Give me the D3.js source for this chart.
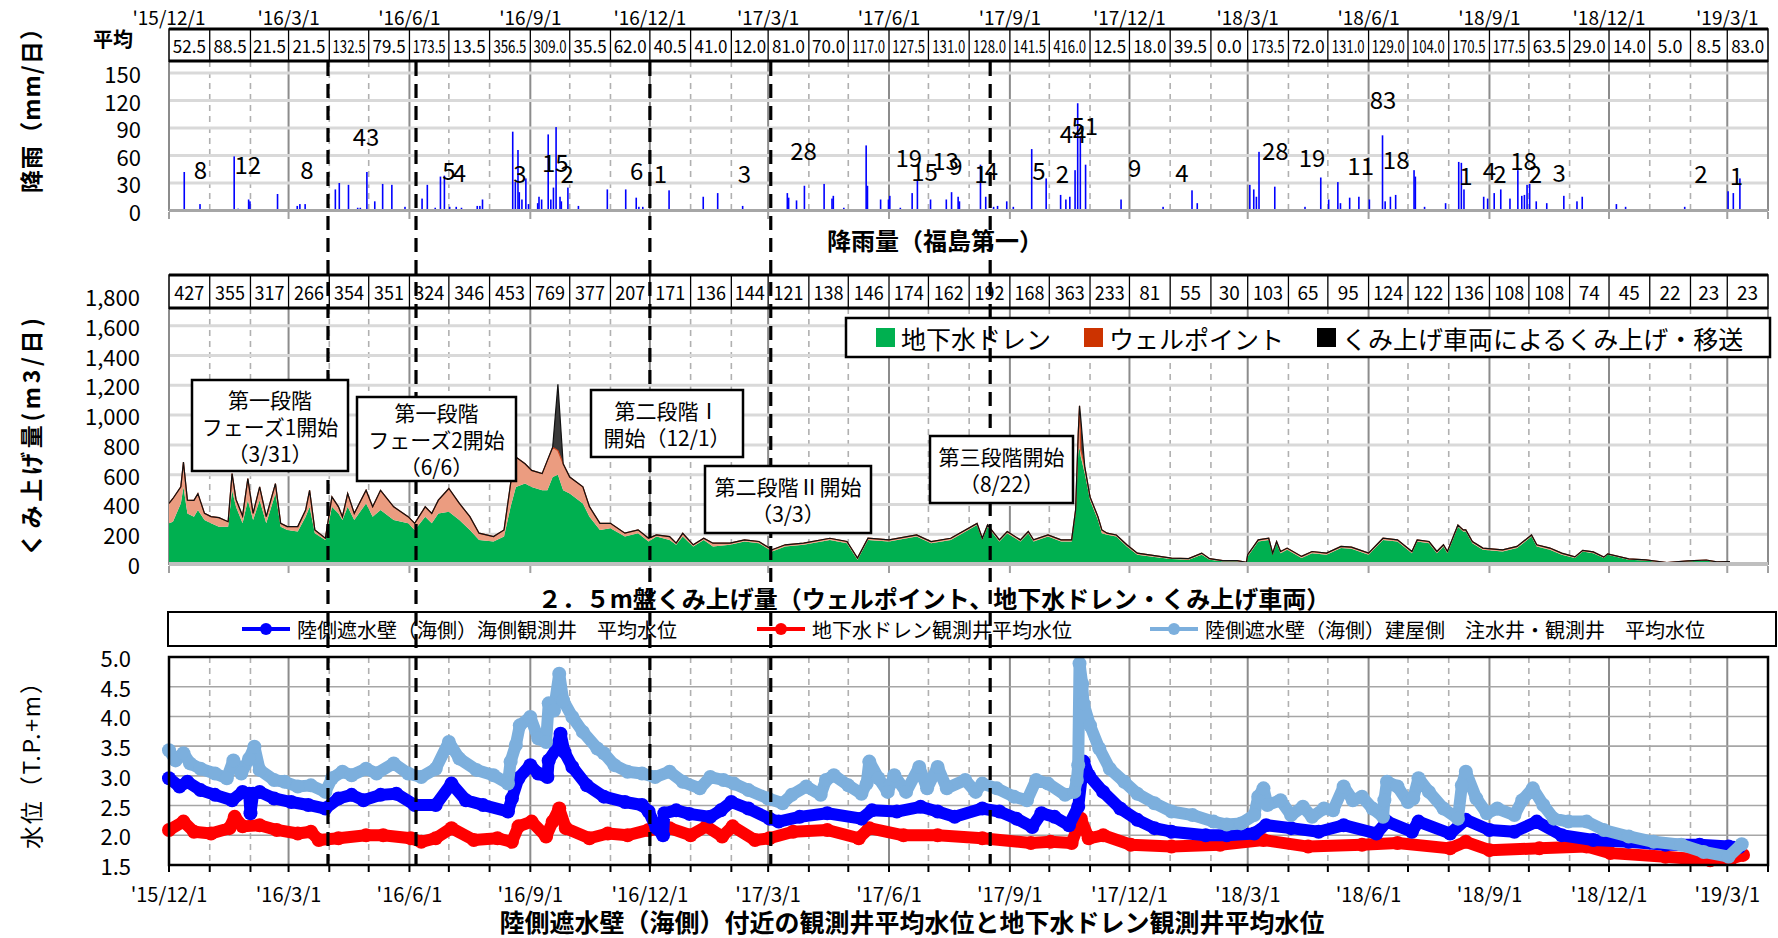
<!DOCTYPE html>
<html>
<head>
<meta charset="utf-8">
<script src="https://cdn.jsdelivr.net/npm/d3@7"></script>
<style>
body { margin: 0; background: #fff; }
svg text { font-family: "Noto Sans CJK JP", "Noto Sans", sans-serif; fill: #000; }
</style>
</head>
<body>
<div id="chart"></div>
<script>
// monthly averages shown in the two tables
const rainAvg = [52.5, 88.5, 21.5, 21.5, 132.5, 79.5, 173.5, 13.5, 356.5, 309.0, 35.5, 62.0, 40.5, 41.0, 12.0, 81.0, 70.0, 117.0, 127.5, 131.0,
    128.0, 141.5, 416.0, 12.5, 18.0, 39.5, 0.0, 173.5, 72.0, 131.0, 129.0, 104.0, 170.5, 177.5, 63.5, 29.0, 14.0, 5.0, 8.5, 83.0];
const pumpAvg = [427, 355, 317, 266, 354, 351, 324, 346, 453, 769, 377, 207, 171, 136, 144, 121, 138, 146, 174, 162,
    192, 168, 363, 233, 81, 55, 30, 103, 65, 95, 124, 122, 136, 108, 108, 74, 45, 22, 23, 23];

// daily rainfall (mm), only the days with visible bars
const rainDaily = [["2015-12-12",42],["2015-12-24",7],["2016-01-19",59],["2016-01-22",2],["2016-01-30",12],["2016-01-31",10],["2016-02-21",18],
    ["2016-03-07",5],["2016-03-09",7],["2016-03-13",7],["2016-04-05",23],["2016-04-08",30],["2016-04-15",28],["2016-04-22",3],["2016-04-24",3],
    ["2016-04-29",42],["2016-05-05",10],["2016-05-11",29],["2016-05-18",28],["2016-05-28",4],["2016-06-10",13],["2016-06-14",28],["2016-06-20",3],
    ["2016-06-24",37],["2016-06-27",38],["2016-07-01",4],["2016-07-06",4],["2016-07-10",3],["2016-07-22",5],["2016-07-24",5],["2016-07-26",12],
    ["2016-08-18",86],["2016-08-20",31],["2016-08-22",66],["2016-08-23",20],["2016-08-25",12],["2016-08-28",35],["2016-08-30",7],["2016-09-06",8],
    ["2016-09-07",15],["2016-09-09",12],["2016-09-14",83],["2016-09-16",12],["2016-09-18",25],["2016-09-20",91],["2016-09-23",15],["2016-09-24",10],
    ["2016-09-29",25],["2016-10-07",5],["2016-10-29",23],["2016-11-12",23],["2016-11-20",14],["2016-11-22",4],["2016-11-25",4],["2016-12-15",22],
    ["2017-01-10",15],["2017-01-21",19],["2017-02-09",5],["2017-03-15",19],["2017-03-16",14],["2017-03-22",11],["2017-03-28",27],["2017-04-12",29],
    ["2017-04-18",13],["2017-04-19",16],["2017-04-27",3],["2017-05-14",71],["2017-05-15",27],["2017-05-25",12],["2017-05-31",12],["2017-06-01",16],
    ["2017-06-09",3],["2017-06-18",19],["2017-06-22",33],["2017-07-02",12],["2017-07-14",12],["2017-07-18",20],["2017-07-23",15],["2017-07-24",10],
    ["2017-08-09",50],["2017-08-13",15],["2017-08-19",4],["2017-08-22",5],["2017-08-29",10],["2017-09-03",4],["2017-09-17",67],["2017-09-28",35],
    ["2017-10-09",17],["2017-10-13",12],["2017-10-16",15],["2017-10-20",44],["2017-10-22",117],["2017-10-24",81],["2017-10-28",50],["2017-11-24",12],
    ["2017-12-26",4],["2018-01-17",22],["2018-01-21",8],["2018-03-02",28],["2018-03-05",23],["2018-03-07",15],["2018-03-09",64],["2018-03-21",26],
    ["2018-04-13",4],["2018-04-25",36],["2018-05-01",12],["2018-05-08",31],["2018-05-10",8],["2018-05-17",14],["2018-05-24",15],["2018-06-01",12],
    ["2018-06-11",82],["2018-06-13",10],["2018-06-17",15],["2018-06-21",17],["2018-07-05",44],["2018-07-06",37],["2018-07-13",4],["2018-07-29",8],
    ["2018-08-08",53],["2018-08-10",52],["2018-08-12",23],["2018-08-27",15],["2018-08-30",13],["2018-09-04",19],["2018-09-09",23],["2018-09-16",13],
    ["2018-09-22",44],["2018-09-25",16],["2018-09-27",17],["2018-09-29",28],["2018-10-01",29],["2018-10-06",10],["2018-10-14",8],["2018-10-27",16],
    ["2018-11-06",10],["2018-11-10",15],["2018-12-06",7],["2018-12-13",4],["2019-01-27",4],["2019-03-01",21],["2019-03-05",19],["2019-03-10",35]];

// numbers written over the rainfall bars: date, height (mm), text
const rainNotes = [["2015-12-25",46,"8"],["2016-01-30",51,"12"],["2016-03-15",46,"8"],["2016-04-29",82,"43"],["2016-07-01",45,"5"],
    ["2016-07-09",43,"4"],["2016-08-24",41,"3"],["2016-09-20",54,"15"],["2016-09-29",41,"2"],["2016-11-21",45,"6"],["2016-12-09",41,"1"],
    ["2017-02-11",42,"3"],["2017-03-28",67,"28"],["2017-06-16",59,"19"],["2017-06-28",44,"15"],["2017-07-14",56,"13"],["2017-07-22",50,"9"],
    ["2017-08-10",41,"1"],["2017-08-18",45,"4"],["2017-09-23",45,"5"],["2017-10-11",42,"2"],["2017-10-19",85,"44"],["2017-10-28",94,"51"],
    ["2017-12-05",48,"9"],["2018-01-10",43,"4"],["2018-03-22",67,"28"],["2018-04-19",59,"19"],["2018-05-26",50,"11"],["2018-06-12",122,"83"],
    ["2018-06-22",57,"18"],["2018-08-14",39,"1"],["2018-09-01",45,"4"],["2018-09-09",41,"2"],["2018-09-27",56,"18"],["2018-10-06",41,"2"],
    ["2018-10-24",43,"3"],["2019-02-09",41,"2"],["2019-03-08",39,"1"]];

// pumped volume (m3/day): date, groundwater drain, well point, truck transfer
const pumpDaily = [["2015-12-01",273,134,0],["2015-12-04",284,156,0],["2015-12-10",407,111,0],["2015-12-12",518,166,0],["2015-12-15",340,89,0],
    ["2015-12-20",318,110,0],["2015-12-23",362,111,0],["2015-12-28",296,44,0],["2016-01-02",273,45,0],["2016-01-08",251,60,0],["2016-01-15",251,33,0],
    ["2016-01-18",495,112,0],["2016-01-21",384,50,0],["2016-01-26",273,50,0],["2016-01-30",429,144,0],["2016-02-03",296,44,0],["2016-02-08",429,89,0],
    ["2016-02-13",273,45,0],["2016-02-20",473,67,0],["2016-02-24",251,22,0],["2016-02-29",229,22,0],["2016-03-08",218,33,0],["2016-03-14",318,44,0],
    ["2016-03-17",384,111,0],["2016-03-21",207,22,0],["2016-03-29",162,11,0],["2016-04-03",384,67,0],["2016-04-08",340,44,0],["2016-04-11",296,22,0],
    ["2016-04-15",384,89,0],["2016-04-20",296,44,0],["2016-04-29",407,88,0],["2016-05-04",318,66,0],["2016-05-10",362,133,0],["2016-05-20",296,88,0],
    ["2016-05-31",273,45,0],["2016-06-05",229,44,0],["2016-06-13",318,66,0],["2016-06-18",273,67,0],["2016-06-23",340,89,0],["2016-07-01",351,156,0],
    ["2016-07-09",296,111,0],["2016-07-17",229,89,0],["2016-07-24",162,45,0],["2016-08-04",151,33,0],["2016-08-12",184,45,0],["2016-08-17",384,156,0],
    ["2016-08-21",518,200,0],["2016-08-28",540,133,0],["2016-09-02",518,111,0],["2016-09-10",495,112,0],["2016-09-14",495,201,0],["2016-09-18",584,200,0],
    ["2016-09-22",600,162,445],["2016-09-26",495,178,0],["2016-10-01",473,111,0],["2016-10-11",407,111,0],["2016-10-16",318,67,0],["2016-10-24",229,44,0],
    ["2016-11-01",240,33,0],["2016-11-12",184,23,0],["2016-11-22",207,22,0],["2016-11-30",151,22,0],["2016-12-06",184,11,0],["2016-12-16",162,22,0],
    ["2016-12-21",129,11,0],["2016-12-26",184,22,0],["2017-01-03",118,11,0],["2017-01-11",162,11,0],["2017-01-18",118,22,0],["2017-01-31",129,11,0],
    ["2017-02-11",151,11,0],["2017-02-22",140,11,0],["2017-03-04",84,12,0],["2017-03-14",118,11,0],["2017-03-28",129,11,0],["2017-04-17",162,11,0],
    ["2017-04-30",140,11,0],["2017-05-08",29,11,0],["2017-05-16",162,11,0],["2017-06-01",151,11,0],["2017-06-22",184,11,0],["2017-07-03",140,11,0],
    ["2017-07-18",162,11,0],["2017-08-07",262,11,0],["2017-08-11",162,11,0],["2017-08-15",251,11,0],["2017-08-24",151,11,0],["2017-08-30",207,11,0],
    ["2017-09-09",151,11,0],["2017-09-15",207,11,0],["2017-09-19",151,11,0],["2017-09-30",184,11,0],["2017-10-10",151,11,0],["2017-10-18",151,11,0],
    ["2017-10-21",340,22,0],["2017-10-23",740,133,0],["2017-10-24",780,282,0],["2017-10-25",718,50,205],["2017-10-28",607,45,0],["2017-11-01",429,22,0],
    ["2017-11-07",296,22,0],["2017-11-10",207,22,0],["2017-11-14",196,11,0],["2017-11-21",184,11,0],["2017-11-29",118,11,0],["2017-12-07",62,11,0],
    ["2017-12-20",47,9,0],["2018-01-02",33,7,0],["2018-01-15",29,7,0],["2018-01-25",62,11,0],["2018-01-31",29,7,0],["2018-02-10",18,5,0],
    ["2018-02-21",18,5,0],["2018-02-28",7,4,0],["2018-03-01",51,11,0],["2018-03-09",151,11,0],["2018-03-17",162,11,0],["2018-03-20",62,11,0],
    ["2018-03-23",140,11,0],["2018-03-26",73,11,0],["2018-03-31",96,11,0],["2018-04-11",40,11,0],["2018-04-19",73,11,0],["2018-04-30",62,11,0],
    ["2018-05-11",107,11,0],["2018-05-19",102,11,0],["2018-06-01",62,11,0],["2018-06-12",162,11,0],["2018-06-23",151,11,0],["2018-07-04",73,11,0],
    ["2018-07-08",151,11,0],["2018-07-17",140,11,0],["2018-07-23",73,11,0],["2018-07-28",118,11,0],["2018-07-31",73,11,0],["2018-08-08",251,11,0],
    ["2018-08-12",218,11,0],["2018-08-14",218,11,0],["2018-08-19",140,11,0],["2018-08-27",96,11,0],["2018-09-11",84,11,0],["2018-09-22",107,11,0],
    ["2018-10-03",184,11,0],["2018-10-07",118,11,0],["2018-10-17",96,11,0],["2018-10-26",62,11,0],["2018-11-05",40,8,0],["2018-11-11",84,8,0],
    ["2018-11-19",73,8,0],["2018-11-27",40,6,0],["2018-11-30",62,6,0],["2018-12-16",29,5,0],["2018-12-29",24,4,0],["2019-01-14",7,3,0],
    ["2019-01-30",18,3,0],["2019-02-13",24,3,0],["2019-02-21",11,3,0],["2019-03-03",13,3,0]];

// water levels (T.P.+m)
const levelSea = [["2015-12-01",2.96],["2015-12-09",2.82],["2015-12-15",2.90],["2015-12-25",2.76],["2016-01-05",2.68],["2016-01-18",2.59],
    ["2016-01-26",2.73],["2016-01-31",2.70],["2016-02-01",2.37],["2016-02-03",2.70],["2016-02-08",2.73],["2016-02-19",2.62],["2016-03-03",2.56],
    ["2016-03-16",2.51],["2016-03-29",2.45],["2016-04-08",2.62],["2016-04-18",2.68],["2016-04-27",2.59],["2016-05-10",2.68],["2016-05-22",2.70],
    ["2016-06-05",2.51],["2016-06-21",2.51],["2016-07-03",2.87],["2016-07-14",2.59],["2016-07-27",2.51],["2016-08-15",2.40],["2016-08-18",2.62],
    ["2016-08-23",2.96],["2016-09-01",3.18],["2016-09-07",3.04],["2016-09-14",2.98],["2016-09-15",3.26],["2016-09-21",3.46],["2016-09-24",3.71],
    ["2016-09-27",3.40],["2016-10-03",3.15],["2016-10-14",2.84],["2016-10-27",2.65],["2016-11-12",2.56],["2016-11-25",2.51],["2016-11-30",2.40],
    ["2016-12-06",2.12],["2016-12-11",2.00],["2016-12-12",2.37],["2016-12-21",2.42],["2016-12-31",2.36],["2017-01-16",2.31],["2017-01-24",2.42],
    ["2017-02-01",2.56],["2017-02-14",2.45],["2017-03-02",2.28],["2017-03-09",2.23],["2017-03-25",2.31],["2017-04-15",2.37],["2017-05-11",2.28],
    ["2017-05-19",2.42],["2017-06-07",2.40],["2017-06-25",2.48],["2017-07-08",2.40],["2017-07-21",2.31],["2017-08-11",2.45],["2017-08-24",2.40],
    ["2017-09-06",2.28],["2017-09-18",2.14],["2017-09-25",2.37],["2017-10-05",2.31],["2017-10-16",2.17],["2017-10-23",2.48],["2017-10-27",3.24],
    ["2017-10-31",3.01],["2017-11-11",2.73],["2017-11-24",2.45],["2017-12-07",2.26],["2017-12-20",2.12],["2018-01-02",2.06],["2018-01-28",2.00],
    ["2018-02-13",2.00],["2018-03-06",2.03],["2018-03-15",2.17],["2018-04-03",2.12],["2018-04-24",2.06],["2018-05-13",2.17],["2018-06-07",2.03],
    ["2018-06-15",2.23],["2018-07-04",2.06],["2018-07-09",2.23],["2018-08-02",2.03],["2018-08-14",2.26],["2018-09-01",2.09],["2018-09-20",2.06],
    ["2018-10-07",2.23],["2018-10-26",2.00],["2018-11-19",1.92],["2018-12-16",1.89],["2019-01-13",1.84],["2019-02-08",1.84],["2019-03-02",1.81],
    ["2019-03-10",1.80]];
const levelDrain = [["2015-12-01",2.09],["2015-12-12",2.23],["2015-12-20",2.06],["2016-01-02",2.03],["2016-01-16",2.12],["2016-01-20",2.31],
    ["2016-01-26",2.15],["2016-02-08",2.17],["2016-02-21",2.09],["2016-03-08",2.03],["2016-03-18",2.06],["2016-03-24",1.92],["2016-04-08",1.95],
    ["2016-04-29",2.00],["2016-05-12",2.00],["2016-06-02",1.95],["2016-06-10",1.89],["2016-06-21",1.95],["2016-07-03",2.12],["2016-07-20",1.92],
    ["2016-08-07",1.95],["2016-08-18",1.89],["2016-08-23",2.15],["2016-09-02",2.23],["2016-09-13",1.98],["2016-09-18",2.23],["2016-09-23",2.45],
    ["2016-09-28",2.12],["2016-10-16",1.95],["2016-10-30",2.03],["2016-11-14",2.00],["2016-11-30",2.09],["2016-12-16",2.12],["2017-01-01",2.00],
    ["2017-01-13",2.15],["2017-01-25",1.98],["2017-02-02",2.15],["2017-02-19",1.92],["2017-03-02",1.95],["2017-03-20",2.06],["2017-04-15",2.09],
    ["2017-05-09",1.95],["2017-05-17",2.12],["2017-06-12",2.00],["2017-07-08",2.00],["2017-08-11",1.95],["2017-09-17",1.87],["2017-10-02",1.89],
    ["2017-10-18",1.87],["2017-10-25",2.28],["2017-10-31",1.95],["2017-11-11",2.00],["2017-12-02",1.84],["2018-01-02",1.81],["2018-02-08",1.84],
    ["2018-03-13",1.92],["2018-04-16",1.81],["2018-05-27",1.84],["2018-06-23",1.87],["2018-08-02",1.78],["2018-08-14",1.89],["2018-09-01",1.75],
    ["2018-10-09",1.78],["2018-11-14",1.81],["2018-12-02",1.70],["2019-01-13",1.64],["2019-02-16",1.58],["2019-03-04",1.61],["2019-03-13",1.67]];
const levelBldg = [["2015-12-01",3.43],["2015-12-06",3.26],["2015-12-12",3.38],["2015-12-17",3.21],["2015-12-25",3.12],["2016-01-05",3.04],
    ["2016-01-14",2.96],["2016-01-19",3.26],["2016-01-25",3.04],["2016-01-31",3.29],["2016-02-04",3.49],["2016-02-08",3.10],["2016-02-19",2.93],
    ["2016-02-27",2.90],["2016-03-08",2.82],["2016-03-18",2.84],["2016-03-29",2.73],["2016-04-03",2.96],["2016-04-11",3.07],["2016-04-18",3.01],
    ["2016-04-29",3.12],["2016-05-07",3.04],["2016-05-20",3.21],["2016-05-31",3.04],["2016-06-10",2.98],["2016-06-21",3.12],["2016-07-01",3.57],
    ["2016-07-09",3.29],["2016-07-22",3.10],["2016-08-04",3.01],["2016-08-15",2.87],["2016-08-17",3.24],["2016-08-21",3.52],["2016-08-24",3.85],
    ["2016-09-01",3.99],["2016-09-07",3.63],["2016-09-13",3.57],["2016-09-15",4.22],["2016-09-19",4.10],["2016-09-23",4.72],["2016-09-26",4.27],
    ["2016-10-03",3.99],["2016-10-11",3.74],["2016-10-22",3.46],["2016-10-27",3.38],["2016-11-04",3.18],["2016-11-14",3.07],["2016-11-25",3.04],
    ["2016-12-05",2.98],["2016-12-16",3.07],["2016-12-26",2.90],["2017-01-08",2.79],["2017-01-16",2.98],["2017-01-26",2.93],["2017-02-03",2.87],
    ["2017-02-14",2.76],["2017-03-01",2.62],["2017-03-12",2.54],["2017-03-19",2.68],["2017-03-30",2.82],["2017-04-10",2.68],["2017-04-14",2.93],
    ["2017-04-20",3.01],["2017-05-01",2.84],["2017-05-11",2.70],["2017-05-15",2.87],["2017-05-17",3.24],["2017-05-24",2.96],["2017-05-31",2.73],
    ["2017-06-05",3.01],["2017-06-14",2.73],["2017-06-24",3.15],["2017-06-30",2.79],["2017-07-08",3.15],["2017-07-15",2.79],["2017-07-29",2.93],
    ["2017-08-06",2.73],["2017-08-11",2.87],["2017-08-22",2.79],["2017-09-04",2.65],["2017-09-14",2.59],["2017-09-21",2.93],["2017-09-30",2.87],
    ["2017-10-13",2.68],["2017-10-20",2.73],["2017-10-22",2.93],["2017-10-23",3.18],["2017-10-24",4.89],["2017-10-26",4.55],["2017-10-27",4.22],
    ["2017-11-01",3.85],["2017-11-08",3.46],["2017-11-16",3.12],["2017-11-27",2.90],["2017-12-07",2.70],["2017-12-20",2.54],["2018-01-02",2.40],
    ["2018-01-18",2.34],["2018-02-03",2.23],["2018-02-13",2.18],["2018-02-24",2.20],["2018-03-06",2.34],["2018-03-09",2.65],["2018-03-13",2.79],
    ["2018-03-16",2.51],["2018-03-26",2.59],["2018-04-03",2.34],["2018-04-12",2.48],["2018-04-19",2.31],["2018-04-28",2.45],["2018-05-05",2.42],
    ["2018-05-13",2.82],["2018-05-20",2.59],["2018-05-27",2.65],["2018-06-04",2.45],["2018-06-12",2.31],["2018-06-13",2.59],["2018-06-15",2.90],
    ["2018-06-23",2.82],["2018-07-01",2.56],["2018-07-05",2.62],["2018-07-09",2.96],["2018-07-17",2.73],["2018-07-28",2.45],["2018-08-08",2.28],
    ["2018-08-11",2.84],["2018-08-14",3.07],["2018-08-22",2.62],["2018-08-30",2.37],["2018-09-07",2.45],["2018-09-20",2.34],["2018-09-26",2.59],
    ["2018-10-04",2.79],["2018-10-12",2.51],["2018-10-20",2.28],["2018-10-31",2.23],["2018-11-14",2.23],["2018-11-27",2.09],["2018-12-16",1.98],
    ["2019-01-04",1.89],["2019-01-25",1.84],["2019-02-11",1.72],["2019-03-02",1.64],["2019-03-12",1.85]];

// start dates of the work stages (dashed lines, as drawn)
const stageLines = ["2016-03-31", "2016-06-06", "2016-12-01", "2017-03-03", "2017-08-17"];
const stageNotes = [["第一段階", "フェーズ1開始", "（3/31）"], ["第一段階", "フェーズ2開始", "（6/6）"], ["第二段階Ⅰ", "開始（12/1）"],
    ["第二段階Ⅱ開始", "（3/3）"], ["第三段階開始", "（8/22）"]];

const pumpNames = ["地下水ドレン", "ウェルポイント", "くみ上げ車両によるくみ上げ・移送"];
const levelNames = ["陸側遮水壁（海側）海側観測井　平均水位", "地下水ドレン観測井平均水位", "陸側遮水壁（海側）建屋側　注水井・観測井　平均水位"];

const W = 1778, H = 938;
const parse = d3.timeParse("%Y-%m-%d");
const start = parse("2015-12-01"), end = parse("2019-04-01");
const x = d3.scaleTime().domain([start, end]).range([169, 1768]);
const months = d3.timeMonth.range(start, end);
const isQuarter = d => d.getMonth() % 3 === 2;
const tickFmt = d3.timeFormat("'%y/%-m/%-d");

const svg = d3.select("#chart").append("svg").attr("width", W).attr("height", H);
const defs = svg.append("defs");

function fitText(sel, maxW) {
    sel.each(function () {
        if (this.getComputedTextLength() > maxW) {
            d3.select(this).attr("textLength", maxW).attr("lengthAdjust", "spacingAndGlyphs");
        }
    });
}

function vGrid(g, y0, y1) {
    g.selectAll(null).data(months.slice(1)).enter().append("line")
        .attr("x1", d => x(d)).attr("x2", d => x(d))
        .attr("y1", y0).attr("y2", y1)
        .attr("stroke", d => isQuarter(d) ? "#8c8c8c" : "#b0b0b0")
        .attr("stroke-width", d => isQuarter(d) ? 2 : 1.6)
        .attr("stroke-dasharray", d => isQuarter(d) ? null : "6,5");
}

function monthTable(g, y0, y1, values, fmt, fontSize, maxW) {
    g.append("rect").attr("x", x(start)).attr("y", y0).attr("width", x(end) - x(start)).attr("height", y1 - y0)
        .attr("fill", "#fff").attr("stroke", "#000").attr("stroke-width", 1.5);
    g.append("line").attr("x1", x(start)).attr("x2", x(end)).attr("y1", y0).attr("y2", y0).attr("stroke", "#000").attr("stroke-width", 3);
    g.append("line").attr("x1", x(start)).attr("x2", x(end)).attr("y1", y1).attr("y2", y1).attr("stroke", "#000").attr("stroke-width", 3);
    g.selectAll(null).data(months.slice(1)).enter().append("line")
        .attr("x1", d => x(d)).attr("x2", d => x(d)).attr("y1", y0).attr("y2", y1)
        .attr("stroke", "#000").attr("stroke-width", 1.3);
    g.selectAll(null).data(values).enter().append("text")
        .attr("x", (d, i) => (x(months[i]) + x(d3.timeMonth.offset(months[i], 1))) / 2)
        .attr("y", (y0 + y1) / 2)
        .attr("text-anchor", "middle").attr("dominant-baseline", "central")
        .attr("font-size", fontSize)
        .text(fmt)
        .call(fitText, maxW);
}

function quarterTicks(g, y) {
    g.selectAll(null).data(months.filter(isQuarter).concat([end])).enter().append("line")
        .attr("x1", d => x(d)).attr("x2", d => x(d)).attr("y1", y).attr("y2", y + 7)
        .attr("stroke", "#a0a0a0").attr("stroke-width", 2);
}

// ---------- rainfall ----------
const yR = d3.scaleLinear().domain([0, 180]).range([210.5, 45.5]);
const gR = svg.append("g");
vGrid(gR, 61, 210);
gR.selectAll(null).data([30, 60, 90, 120, 150]).enter().append("line")
    .attr("x1", x(start)).attr("x2", x(end)).attr("y1", d => yR(d)).attr("y2", d => yR(d))
    .attr("stroke", "#d9d9d9").attr("stroke-width", 3);
gR.append("line").attr("x1", x(start)).attr("x2", x(start)).attr("y1", 61).attr("y2", 211).attr("stroke", "#8c8c8c").attr("stroke-width", 2);
gR.append("line").attr("x1", x(end)).attr("x2", x(end)).attr("y1", 61).attr("y2", 211).attr("stroke", "#8c8c8c").attr("stroke-width", 2);
defs.append("clipPath").attr("id", "clipR").append("rect").attr("x", x(start)).attr("y", 61).attr("width", x(end) - x(start)).attr("height", 150);
gR.append("g").attr("clip-path", "url(#clipR)").selectAll("rect").data(rainDaily).enter().append("rect")
    .attr("x", d => x(parse(d[0]))).attr("width", 1.6)
    .attr("y", d => yR(d[1])).attr("height", d => yR(0) - yR(d[1]))
    .attr("fill", "#0000ff");
gR.append("line").attr("x1", x(start)).attr("x2", x(end)).attr("y1", yR(0)).attr("y2", yR(0)).attr("stroke", "#a6a6a6").attr("stroke-width", 3);
quarterTicks(gR, 212);
gR.selectAll(null).data(rainNotes).enter().append("text")
    .attr("x", d => x(parse(d[0]))).attr("y", d => yR(d[1]))
    .attr("text-anchor", "middle").attr("dominant-baseline", "central")
    .attr("font-size", 24).text(d => d[2]);
gR.selectAll(null).data([0, 30, 60, 90, 120, 150]).enter().append("text")
    .attr("x", 141).attr("y", d => yR(d)).attr("text-anchor", "end").attr("dominant-baseline", "central")
    .attr("font-size", 22).text(d => d);
monthTable(gR, 29, 61, rainAvg, d => d.toFixed(1), 18, 33);
gR.append("text").attr("x", 113).attr("y", 38).attr("text-anchor", "middle").attr("dominant-baseline", "central")
    .attr("font-size", 20).attr("font-weight", 700).text("平均");
gR.selectAll(null).data(months.filter(isQuarter)).enter().append("text")
    .attr("x", d => x(d)).attr("y", 16).attr("text-anchor", "middle").attr("dominant-baseline", "central")
    .attr("font-size", 19).text(tickFmt);
gR.append("text").attr("x", 935).attr("y", 239).attr("text-anchor", "middle").attr("dominant-baseline", "central")
    .attr("font-size", 24).attr("font-weight", 700).text("降雨量（福島第一）");

// ---------- pumped volume ----------
const yP = d3.scaleLinear().domain([0, 1800]).range([564, 296]);
const gP = svg.append("g");
vGrid(gP, 308, 564);
gP.selectAll(null).data(d3.range(200, 1800, 200)).enter().append("line")
    .attr("x1", x(start)).attr("x2", x(end)).attr("y1", d => yP(d)).attr("y2", d => yP(d))
    .attr("stroke", "#d9d9d9").attr("stroke-width", 3);
gP.append("line").attr("x1", x(start)).attr("x2", x(start)).attr("y1", 308).attr("y2", 565).attr("stroke", "#8c8c8c").attr("stroke-width", 2);
gP.append("line").attr("x1", x(end)).attr("x2", x(end)).attr("y1", 308).attr("y2", 565).attr("stroke", "#8c8c8c").attr("stroke-width", 2);

const pumpRows = pumpDaily.map(d => ({ date: parse(d[0]), drain: d[1], well: d[2], truck: d[3] }));
const stacked = d3.stack().keys(["drain", "well", "truck"])(pumpRows);
const pumpFill = ["#00b050", "#eb9c80", "#3a3a3a"];
const pumpEdge = ["#00a048", "#d2451e", "#111"];
const area = d3.area().x(d => x(d.data.date)).y0(d => yP(d[0])).y1(d => yP(d[1]));
const line = d3.line().x(d => x(d.data.date)).y(d => yP(d[1]));
defs.append("clipPath").attr("id", "clipP").append("rect").attr("x", x(start)).attr("y", 308).attr("width", x(end) - x(start)).attr("height", 256);
const gA = gP.append("g").attr("clip-path", "url(#clipP)");
gA.selectAll("path.a").data(stacked).enter().append("path").attr("class", "a")
    .attr("d", area).attr("fill", (d, i) => pumpFill[i]);
gA.selectAll("path.e").data(stacked.slice(1)).enter().append("path").attr("class", "e")
    .attr("d", line).attr("fill", "none").attr("stroke", (d, i) => pumpEdge[i + 1]).attr("stroke-width", 1.2);
gP.append("line").attr("x1", x(start)).attr("x2", x(end)).attr("y1", yP(0)).attr("y2", yP(0)).attr("stroke", "#bfbfbf").attr("stroke-width", 4);
quarterTicks(gP, 566);
gP.selectAll(null).data(d3.range(0, 2000, 200)).enter().append("text")
    .attr("x", 140).attr("y", d => yP(d)).attr("text-anchor", "end").attr("dominant-baseline", "central")
    .attr("font-size", 22).text(d3.format(","));
monthTable(gP, 275, 308, pumpAvg, d => d, 19, 30);

// legend of the pumped volume
const legP = gP.append("g");
legP.append("rect").attr("x", 846).attr("y", 318).attr("width", 924).attr("height", 39)
    .attr("fill", "#fff").attr("stroke", "#000").attr("stroke-width", 2.5);
const legPx = [876, 1084, 1317];
legP.selectAll(null).data(pumpNames).enter().append("rect")
    .attr("x", (d, i) => legPx[i]).attr("y", 328).attr("width", 19).attr("height", 19)
    .attr("fill", (d, i) => ["#00b050", "#cc3300", "#000"][i]);
legP.selectAll(null).data(pumpNames).enter().append("text")
    .attr("x", (d, i) => legPx[i] + 25).attr("y", 338).attr("dominant-baseline", "central")
    .attr("font-size", 25).text(d => d);

svg.append("text").attr("x", 934).attr("y", 597).attr("text-anchor", "middle").attr("dominant-baseline", "central")
    .attr("font-size", 24).attr("font-weight", 700).text("２．５m盤くみ上げ量（ウェルポイント、地下水ドレン・くみ上げ車両）");

// ---------- water level ----------
const yL = d3.scaleLinear().domain([1.5, 5.0]).range([865, 657]);
const gL = svg.append("g");
vGrid(gL, 657, 865);
gL.selectAll(null).data([2.0, 2.5, 3.0, 3.5, 4.0, 4.5]).enter().append("line")
    .attr("x1", x(start)).attr("x2", x(end)).attr("y1", d => yL(d)).attr("y2", d => yL(d))
    .attr("stroke", "#a6a6a6").attr("stroke-width", 1.6);

const levels = [
    { name: levelNames[1], data: levelDrain, color: "#ff0000" },
    { name: levelNames[0], data: levelSea, color: "#0000ff" },
    { name: levelNames[2], data: levelBldg, color: "#7cafdd" }
];
const lvLine = d3.line().x(d => x(parse(d[0]))).y(d => yL(d[1]));
levels.forEach(s => {
    const g = gL.append("g");
    g.append("path").attr("d", lvLine(s.data)).attr("fill", "none").attr("stroke", s.color)
        .attr("stroke-width", 12).attr("stroke-linejoin", "round").attr("stroke-linecap", "round");
    g.selectAll("circle").data(s.data).enter().append("circle")
        .attr("cx", d => x(parse(d[0]))).attr("cy", d => yL(d[1])).attr("r", 7).attr("fill", s.color);
});
gL.append("rect").attr("x", x(start)).attr("y", 657).attr("width", x(end) - x(start)).attr("height", 208)
    .attr("fill", "none").attr("stroke", "#000").attr("stroke-width", 2.5);
gL.selectAll(null).data(months.slice(1).concat([end])).enter().append("line")
    .attr("x1", d => x(d)).attr("x2", d => x(d)).attr("y1", 865).attr("y2", 872)
    .attr("stroke", "#000").attr("stroke-width", 2);
gL.append("line").attr("x1", x(start)).attr("x2", x(start)).attr("y1", 865).attr("y2", 872).attr("stroke", "#000").attr("stroke-width", 2);
gL.selectAll(null).data([1.5, 2.0, 2.5, 3.0, 3.5, 4.0, 4.5, 5.0]).enter().append("text")
    .attr("x", 131).attr("y", d => yL(d)).attr("text-anchor", "end").attr("dominant-baseline", "central")
    .attr("font-size", 22).text(d3.format(".1f"));
gL.selectAll(null).data(months.filter(isQuarter)).enter().append("text")
    .attr("x", d => x(d)).attr("y", 893).attr("text-anchor", "middle").attr("dominant-baseline", "central")
    .attr("font-size", 20).text(tickFmt);
svg.append("text").attr("x", 912).attr("y", 921).attr("text-anchor", "middle").attr("dominant-baseline", "central")
    .attr("font-size", 25).attr("font-weight", 700).text("陸側遮水壁（海側）付近の観測井平均水位と地下水ドレン観測井平均水位");

// legend of the water levels
const legL = svg.append("g");
legL.append("rect").attr("x", 168).attr("y", 612).attr("width", 1608).attr("height", 34)
    .attr("fill", "#fff").attr("stroke", "#000").attr("stroke-width", 2);
const legLx = [242, 757, 1150];
const legOrder = [levels[1], levels[0], levels[2]];
legOrder.forEach((s, i) => {
    legL.append("line").attr("x1", legLx[i]).attr("x2", legLx[i] + 48).attr("y1", 629).attr("y2", 629)
        .attr("stroke", s.color).attr("stroke-width", 4);
    legL.append("circle").attr("cx", legLx[i] + 24).attr("cy", 629).attr("r", 6).attr("fill", s.color);
    legL.append("text").attr("x", legLx[i] + 55).attr("y", 629).attr("dominant-baseline", "central")
        .attr("font-size", 20).text(s.name);
});

// ---------- stage lines and notes ----------
svg.selectAll(null).data(stageLines).enter().append("line")
    .attr("x1", d => x(parse(d))).attr("x2", d => x(parse(d)))
    .attr("y1", 62).attr("y2", 865)
    .attr("stroke", "#000").attr("stroke-width", 3.2).attr("stroke-dasharray", "14,8");

const noteBoxes = [[192, 380, 156, 91], [357, 397, 159, 84], [591, 390, 152, 67], [705, 466, 166, 67], [930, 436, 143, 67]];
const gN = svg.append("g");
stageNotes.forEach((lines, i) => {
    const b = noteBoxes[i];
    gN.append("rect").attr("x", b[0]).attr("y", b[1]).attr("width", b[2]).attr("height", b[3])
        .attr("fill", "#fff").attr("stroke", "#000").attr("stroke-width", 2.5);
    const lh = 27, top = b[1] + b[3] / 2 - (lines.length - 1) * lh / 2;
    lines.forEach((t, j) => {
        gN.append("text").attr("x", b[0] + b[2] / 2).attr("y", top + j * lh)
            .attr("text-anchor", "middle").attr("dominant-baseline", "central")
            .attr("font-size", 21).text(t);
    });
});

// ---------- axis titles ----------
const axisTitles = [["降雨（mm/日）", 105, 700, 176], ["くみ上げ量(m3/日)", 437, 700, 238], ["水位（T.P.+m）", 760, 400, 178]];
axisTitles.forEach(t => {
    svg.append("text").attr("transform", `translate(30,${t[1]}) rotate(-90)`)
        .attr("text-anchor", "middle").attr("dominant-baseline", "central")
        .attr("font-size", 23).attr("font-weight", t[2])
        .attr("textLength", t[3]).attr("lengthAdjust", "spacing")
        .text(t[0]);
});
</script>
</body>
</html>
